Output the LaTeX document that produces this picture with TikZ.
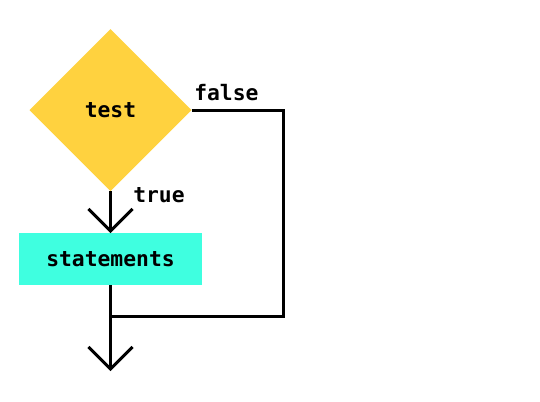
\documentclass[tikz,border=0pt]{standalone}
\usepackage{fontspec}
\newfontfamily\codefont{DejaVu Sans Mono}
\usetikzlibrary{shapes.geometric,arrows.meta}
\definecolor{testyellow}{HTML}{FFD23F}
\definecolor{stmtcyan}{HTML}{3FFFE0}
\begin{document}
\begin{tikzpicture}[x=0.75pt,y=-0.75pt,
  every node/.style={font=\codefont\bfseries\fontsize{16pt}{19pt}\selectfont},
  conn/.style={line width=2.25pt, draw=black},
  tip/.style={-{Straight Barb[length=16.5pt,width=33pt]}},
  decision/.style={diamond, aspect=1, fill=testyellow, minimum width=121.5pt, minimum height=121.5pt, inner sep=0pt, outer sep=0pt},
  process/.style={rectangle, fill=stmtcyan, minimum width=137.25pt, minimum height=39pt, inner sep=0pt, outer sep=0pt},
  lbl/.style={anchor=base west, inner sep=0pt}]
\useasboundingbox (0,0) rectangle (540,401);
\node[decision] (test) at (110.5,110) {test};
\node[process] (stmt) at (110.5,259) {statements};
\coordinate (c1) at (283.5,110);
\coordinate (c2) at (283.5,316.5);
\coordinate (join) at (110.5,316.5);
\coordinate (out) at (110.5,371);
\draw[conn] (test.east) -- (c1) -- (c2) -- (join);
\draw[conn,tip] (test.south) -- (stmt.north);
\draw[conn,tip] (stmt.south) -- (out);
\node[lbl] (false) at (194,100) {false};
\node[lbl] (true) at (133,202) {true};
\end{tikzpicture}
\end{document}
